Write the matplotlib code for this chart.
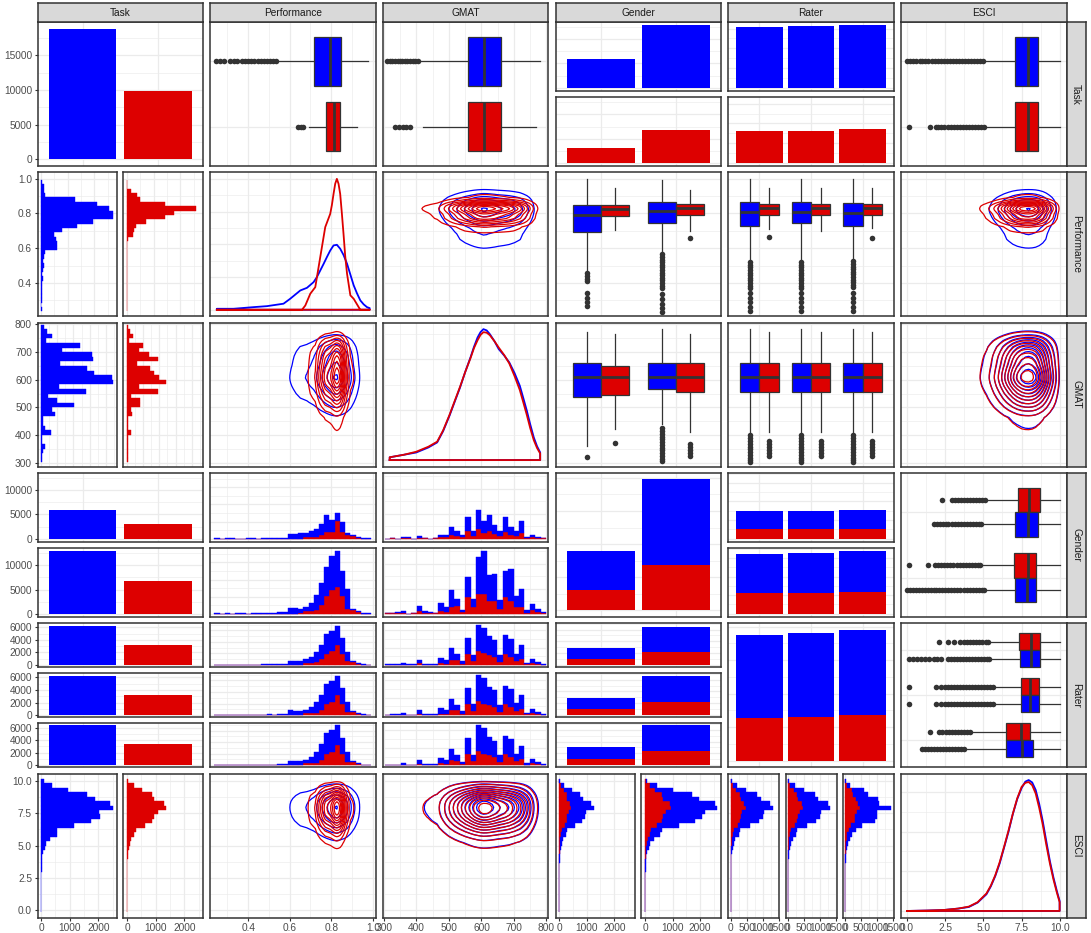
import numpy as np
import matplotlib.pyplot as plt
from matplotlib.ticker import FixedLocator, MaxNLocator, AutoMinorLocator, NullLocator

plt.rcParams['font.family'] = ['Liberation Sans', 'DejaVu Sans']
plt.rcParams['axes.formatter.useoffset'] = False

BLUE = '#0000FF'
RED = '#DD0000'
INK = '#333333'
GRID = '#EBEBEB'

variables = ['Task', 'Performance', 'GMAT', 'Gender', 'Rater', 'ESCI']

# counts: task x gender, split by rater
blue_g1_rater = [1950, 1960, 2000]
blue_g2_rater = [4250, 4320, 4350]
red_g1_rater = [1000, 1010, 1030]
red_g2_rater = [2200, 2250, 2380]

# Performance histogram counts (30 bins, 0.25 .. 0.98)
perf_blue_g1 = [10, 0, 15, 15, 0, 0, 20, 20, 0, 25, 30, 25, 35, 60, 255, 255, 340, 245, 365, 465, 650, 1000, 720, 440, 600, 115, 70, 65, 50, 10]
perf_blue_g2 = [20, 0, 25, 0, 30, 30, 0, 40, 40, 50, 60, 60, 80, 100, 335, 335, 230, 230, 435, 885, 1295, 1700, 2000, 2100, 1500, 1165, 60, 60, 40, 20]
perf_red_g1 = [0, 0, 0, 0, 0, 0, 0, 0, 0, 0, 0, 0, 0, 0, 0, 0, 0, 95, 95, 95, 190, 380, 380, 1040, 380, 190, 150, 55, 0, 0]
perf_red_g2 = [0, 0, 0, 0, 0, 0, 0, 0, 0, 0, 0, 0, 0, 0, 0, 0, 20, 140, 180, 230, 530, 1030, 1380, 1560, 1030, 285, 230, 90, 0, 0]
perf_blue_r1 = [10, 0, 15, 5, 10, 10, 5, 20, 15, 25, 30, 30, 40, 55, 195, 195, 190, 160, 265, 445, 640, 890, 900, 840, 690, 420, 45, 40, 30, 10]
perf_blue_r2 = [10, 0, 10, 5, 10, 10, 10, 20, 10, 25, 30, 25, 40, 50, 200, 195, 185, 155, 270, 450, 650, 900, 905, 845, 700, 430, 40, 45, 30, 10]
perf_blue_r3 = [10, 0, 15, 5, 10, 10, 5, 20, 15, 25, 30, 30, 35, 55, 195, 200, 195, 160, 265, 455, 655, 910, 915, 855, 710, 430, 45, 40, 30, 10]
perf_red_r1 = [0, 0, 0, 0, 0, 0, 0, 0, 0, 0, 0, 0, 0, 0, 0, 0, 5, 80, 90, 110, 240, 470, 590, 870, 470, 160, 125, 50, 0, 0]
perf_red_r2 = [0, 0, 0, 0, 0, 0, 0, 0, 0, 0, 0, 0, 0, 0, 0, 0, 10, 75, 95, 105, 235, 465, 580, 860, 465, 155, 130, 45, 0, 0]
perf_red_r3 = [0, 0, 0, 0, 0, 0, 0, 0, 0, 0, 0, 0, 0, 0, 0, 0, 5, 80, 90, 110, 245, 475, 590, 870, 475, 160, 125, 50, 0, 0]

# GMAT histogram counts (30 bins, 310 .. 790)
gmat_blue_g1 = [0, 10, 0, 30, 30, 0, 65, 10, 0, 20, 105, 105, 315, 210, 105, 590, 210, 770, 470, 620, 360, 210, 570, 315, 210, 470, 55, 105, 40, 20]
gmat_blue_g2 = [25, 25, 55, 95, 0, 25, 225, 95, 55, 25, 335, 225, 690, 295, 95, 800, 335, 1465, 1730, 1000, 1065, 360, 1035, 1265, 425, 730, 95, 240, 135, 55]
gmat_red_g1 = [0, 5, 0, 15, 15, 0, 30, 5, 0, 10, 50, 50, 150, 100, 50, 290, 100, 390, 230, 310, 180, 100, 280, 150, 100, 230, 25, 50, 20, 10]
gmat_red_g2 = [15, 15, 15, 15, 0, 15, 105, 15, 15, 15, 95, 65, 265, 305, 65, 665, 265, 800, 770, 530, 530, 200, 665, 530, 265, 265, 40, 135, 65, 15]
gmat_blue_r1 = [10, 10, 20, 40, 10, 10, 95, 35, 20, 15, 145, 110, 335, 170, 65, 465, 180, 745, 735, 540, 475, 190, 535, 525, 210, 400, 50, 115, 60, 25]
gmat_blue_r2 = [5, 15, 20, 40, 10, 5, 95, 35, 15, 15, 150, 110, 335, 165, 70, 460, 185, 745, 730, 540, 475, 190, 535, 530, 215, 400, 50, 115, 55, 25]
gmat_blue_r3 = [10, 10, 15, 45, 10, 10, 100, 35, 20, 15, 145, 110, 335, 170, 65, 465, 180, 745, 735, 540, 475, 190, 535, 525, 210, 400, 50, 115, 60, 25]
gmat_red_r1 = [5, 5, 5, 10, 5, 5, 45, 5, 5, 10, 50, 40, 140, 135, 40, 320, 120, 395, 335, 280, 235, 100, 315, 225, 120, 165, 20, 60, 30, 10]
gmat_red_r2 = [5, 10, 5, 10, 5, 5, 45, 10, 5, 5, 45, 35, 135, 135, 35, 315, 125, 395, 330, 280, 240, 100, 315, 230, 125, 165, 25, 60, 25, 5]
gmat_red_r3 = [5, 5, 5, 10, 5, 5, 45, 5, 5, 10, 50, 40, 140, 135, 40, 320, 120, 400, 335, 280, 235, 100, 315, 225, 120, 165, 20, 65, 30, 10]

# ESCI histogram counts (30 bins, 0 .. 10)
esci_blue_g1 = [1, 1, 1, 1, 1, 2, 2, 3, 3, 5, 6, 8, 12, 20, 40, 55, 100, 170, 170, 360, 540, 640, 630, 830, 750, 590, 500, 290, 120, 30]
esci_blue_g2 = [1, 1, 1, 2, 2, 3, 3, 5, 7, 10, 14, 17, 28, 45, 90, 115, 220, 380, 380, 800, 1200, 1410, 1400, 1700, 1660, 1310, 1110, 650, 270, 60]
esci_red_g1 = [0, 0, 0, 0, 1, 1, 1, 1, 2, 3, 3, 5, 8, 12, 20, 30, 40, 70, 100, 200, 270, 290, 340, 430, 400, 290, 270, 160, 70, 8]
esci_red_g2 = [1, 1, 1, 1, 1, 1, 2, 2, 3, 5, 7, 10, 17, 28, 45, 70, 90, 160, 220, 445, 610, 640, 760, 930, 890, 640, 610, 360, 160, 17]
esci_blue_r1 = [1, 1, 1, 1, 1, 2, 2, 3, 3, 5, 7, 8, 13, 22, 43, 57, 107, 183, 183, 387, 580, 683, 677, 850, 803, 633, 537, 313, 130, 30]
esci_blue_r2 = [1, 1, 1, 1, 1, 2, 2, 3, 4, 5, 7, 9, 14, 21, 44, 57, 106, 185, 182, 390, 585, 680, 675, 845, 805, 630, 535, 315, 130, 30]
esci_blue_r3 = [1, 1, 1, 1, 1, 1, 2, 3, 3, 5, 7, 8, 14, 21, 44, 56, 107, 150, 220, 330, 620, 700, 620, 990, 640, 700, 450, 380, 100, 30]
esci_red_r1 = [0, 0, 0, 0, 1, 1, 1, 1, 2, 3, 3, 5, 8, 13, 22, 33, 43, 77, 107, 215, 293, 310, 367, 463, 430, 310, 293, 173, 77, 8]
esci_red_r2 = [1, 1, 1, 1, 1, 1, 1, 1, 2, 3, 4, 5, 9, 14, 21, 34, 44, 77, 108, 215, 295, 312, 368, 465, 432, 312, 295, 175, 78, 9]
esci_red_r3 = [0, 0, 0, 0, 1, 1, 1, 1, 2, 3, 3, 5, 8, 13, 22, 33, 43, 60, 110, 180, 310, 300, 380, 450, 410, 330, 250, 220, 60, 8]

# density curves
perf_blue_x = [0.249, 0.329, 0.426, 0.49, 0.57, 0.602, 0.651, 0.683, 0.715, 0.731, 0.747, 0.763, 0.779, 0.795, 0.811, 0.827, 0.843, 0.859, 0.876, 0.892, 0.908, 0.924, 0.94, 0.956, 0.972, 0.985]
perf_blue_d = [0.06, 0.06, 0.16, 0.22, 0.37, 0.67, 1.18, 1.34, 1.69, 2.0, 2.4, 2.8, 3.22, 3.62, 3.93, 3.97, 3.73, 3.35, 2.81, 2.15, 1.49, 1.0, 0.57, 0.33, 0.16, 0.1]
perf_red_x = [0.249, 0.659, 0.675, 0.699, 0.723, 0.747, 0.771, 0.795, 0.803, 0.811, 0.819, 0.827, 0.835, 0.843, 0.851, 0.859, 0.867, 0.876, 0.892, 0.908, 0.932, 0.94, 0.985]
perf_red_d = [0.0, 0.0, 0.26, 0.98, 1.38, 3.22, 5.05, 5.86, 6.4, 7.08, 7.7, 8.0, 7.7, 7.08, 5.9, 4.64, 3.3, 2.2, 0.88, 0.67, 0.16, 0.0, 0.0]
gmat_x = [317.5, 361, 399, 436.6, 463.6, 482, 501.5, 518, 534, 550, 566, 577, 588, 597, 606, 616, 625.8, 640, 653, 670, 685.5, 702, 718, 729, 739.6, 750, 761, 771, 780.7]
gmat_blue_d = [0.11, 0.21, 0.30, 0.50, 0.70, 1.15, 1.76, 2.33, 2.88, 3.5, 4.07, 4.5, 4.87, 5.08, 5.20, 5.15, 5.00, 4.72, 4.41, 4.15, 3.88, 3.45, 2.95, 2.45, 1.96, 1.42, 0.90, 0.55, 0.30]
gmat_red_d = [0.11, 0.21, 0.33, 0.53, 0.73, 1.18, 1.79, 2.36, 2.91, 3.5, 4.04, 4.45, 4.76, 4.97, 5.08, 5.06, 4.96, 4.72, 4.47, 4.17, 3.84, 3.33, 2.78, 2.28, 1.79, 1.27, 0.79, 0.48, 0.26]
esci_x = [0.0, 1.28, 2.43, 3.35, 4.05, 4.62, 5.2, 5.49, 5.78, 6.07, 6.36, 6.65, 6.93, 7.22, 7.51, 7.75, 7.97, 8.2, 8.43, 8.66, 8.89, 9.12, 9.36, 9.59, 9.82, 10.0]
esci_blue_d = [0.0, 0.001, 0.0025, 0.006, 0.01, 0.021, 0.042, 0.062, 0.088, 0.12, 0.16, 0.2, 0.244, 0.282, 0.31, 0.326, 0.33, 0.324, 0.305, 0.27, 0.227, 0.177, 0.126, 0.085, 0.05, 0.025]
esci_red_d = [0.0, 0.001, 0.0025, 0.006, 0.011, 0.022, 0.044, 0.064, 0.09, 0.123, 0.162, 0.203, 0.245, 0.284, 0.313, 0.323, 0.325, 0.317, 0.296, 0.26, 0.218, 0.168, 0.12, 0.08, 0.046, 0.022]

# box plot stats: [whisker low, q1, median, q3, whisker high]
perf_box_task = [[0.54, 0.718, 0.795, 0.848, 0.978], [0.694, 0.776, 0.815, 0.843, 0.925]]
perf_fl_task = [[0.246, 0.262, 0.284, 0.313, 0.33, 0.348, 0.37, 0.385, 0.4, 0.415, 0.43, 0.445, 0.46, 0.475, 0.49, 0.505, 0.52, 0.535],
                [0.641, 0.652, 0.663]]
gmat_box_task = [[407, 559, 608, 659, 779], [420, 559, 608, 659, 768]]
gmat_fl_task = [[310, 318, 326, 334, 342, 350, 356, 364, 372, 380, 388, 396, 404], [333, 345, 357, 369, 381]]
esci_box_task = [[5.12, 7.07, 7.9, 8.55, 10.0], [5.12, 7.07, 7.9, 8.55, 10.0]]
esci_fl_task = [[0.0, 0.2, 0.4, 0.6, 0.85, 1.0, 1.2, 1.4, 1.6, 1.8, 2.0, 2.2, 2.4, 2.6, 2.8, 3.0, 3.2, 3.4, 3.6, 3.8, 4.0, 4.2, 4.4, 4.6, 4.8, 5.0],
                [0.1, 1.47, 1.87, 2.05, 2.25, 2.45, 2.65, 2.85, 3.05, 3.25, 3.45, 3.65, 3.85, 4.05, 4.25, 4.45, 4.65, 4.85, 5.05]]

perf_box_gender_blue = [[0.47, 0.692, 0.788, 0.85, 0.997], [0.576, 0.744, 0.813, 0.866, 0.99]]
perf_box_gender_red = [[0.705, 0.783, 0.827, 0.85, 0.943], [0.701, 0.788, 0.833, 0.856, 0.933]]
perf_fl_gender_blue = [[0.455, 0.44, 0.425, 0.413, 0.34, 0.315, 0.29, 0.27],
                       [0.565, 0.55, 0.535, 0.52, 0.505, 0.49, 0.475, 0.46, 0.445, 0.43, 0.415, 0.4, 0.385, 0.37, 0.335, 0.31, 0.28, 0.255, 0.235]]
perf_fl_gender_red = [[], [0.659]]
perf_box_rater_blue = [[0.532, 0.726, 0.808, 0.866, 0.997], [0.532, 0.746, 0.808, 0.866, 0.997], [0.54, 0.726, 0.805, 0.862, 0.997]]
perf_box_rater_red = [[0.711, 0.788, 0.833, 0.856, 0.943], [0.701, 0.788, 0.833, 0.856, 0.943], [0.717, 0.788, 0.833, 0.856, 0.943]]
perf_fl_rater_blue = [[0.52, 0.505, 0.49, 0.475, 0.46, 0.445, 0.43, 0.415, 0.4, 0.385, 0.37, 0.34, 0.315, 0.29, 0.265, 0.24],
                      [0.52, 0.505, 0.49, 0.475, 0.46, 0.445, 0.43, 0.415, 0.4, 0.385, 0.37, 0.34, 0.315, 0.29, 0.26, 0.24],
                      [0.525, 0.51, 0.495, 0.48, 0.465, 0.45, 0.435, 0.42, 0.405, 0.39, 0.375, 0.34, 0.315, 0.29, 0.265, 0.24]]
perf_fl_rater_red = [[0.667], [], [0.659]]

gmat_box_gender_blue = [[360, 536, 608, 661, 773], [440, 568, 608, 661, 782]]
gmat_box_gender_red = [[423, 546, 608, 649, 764], [411, 556, 608, 661, 764]]
gmat_fl_gender_blue = [[320], [425, 415, 405, 395, 385, 375, 365, 355, 345, 335, 325, 315, 308]]
gmat_fl_gender_red = [[371], [369, 358, 347, 336, 326]]
gmat_box_rater_blue = [[405, 556, 608, 661, 782], [405, 556, 608, 661, 782], [405, 556, 608, 661, 782]]
gmat_box_rater_red = [[412, 556, 608, 661, 773], [412, 556, 608, 661, 773], [412, 556, 608, 661, 773]]
gmat_fl_rater_blue = [[399, 389, 379, 369, 359, 349, 339, 329, 319, 309, 302],
                      [399, 389, 379, 369, 359, 349, 339, 329, 319, 309, 302],
                      [399, 389, 379, 369, 359, 349, 339, 329, 319, 309, 302]]
gmat_fl_rater_red = [[378, 367, 356, 345, 335, 326], [378, 367, 356, 345, 335, 326], [378, 367, 356, 345, 335, 326]]

esci_box_gender_red = [[5.24, 7.25, 7.97, 8.71, 10.0], [4.89, 7.03, 7.9, 8.48, 10.0]]
esci_box_gender_blue = [[4.96, 7.09, 7.9, 8.59, 10.0], [5.12, 7.09, 7.85, 8.48, 10.0]]
esci_fl_gender_red = [[2.3, 2.92, 3.12, 3.32, 3.52, 3.72, 3.92, 4.12, 4.32, 4.52, 4.72, 4.92, 5.1],
                      [0.1, 1.4, 1.84, 2.04, 2.24, 2.44, 2.64, 2.84, 3.04, 3.24, 3.44, 3.64, 3.84, 4.04, 4.24, 4.44, 4.64, 4.8]]
esci_fl_gender_blue = [[1.74, 1.94, 2.14, 2.34, 2.54, 2.7, 2.92, 3.12, 3.32, 3.52, 3.72, 3.92, 4.12, 4.32, 4.52, 4.72, 4.85],
                       [0.0, 0.2, 0.4, 0.6, 0.8, 0.95, 1.15, 1.35, 1.55, 1.75, 1.9, 2.1, 2.3, 2.5, 2.7, 2.9, 3.1, 3.3, 3.5, 3.7, 3.9, 4.1, 4.3, 4.5, 4.7, 4.9, 5.05]]
esci_box_rater_red = [[5.42, 7.32, 8.09, 8.71, 10.0], [5.7, 7.44, 8.06, 8.66, 10.0], [4.2, 6.5, 7.44, 8.07, 10.0]]
esci_box_rater_blue = [[5.52, 7.37, 8.09, 8.71, 10.0], [5.7, 7.44, 8.06, 8.66, 10.0], [3.9, 6.5, 7.51, 8.24, 10.0]]
esci_fl_rater_red = [[2.07, 2.7, 3.1, 3.5, 3.74, 3.94, 4.14, 4.34, 4.54, 4.74, 4.94, 5.14, 5.3],
                     [0.1, 1.89, 2.2, 2.47, 2.65, 2.85, 3.05, 3.25, 3.45, 3.65, 3.85, 4.05, 4.25, 4.45, 4.65, 4.85, 5.05, 5.25, 5.45, 5.6],
                     [1.49, 2.12, 2.32, 2.52, 2.72, 2.92, 3.12, 3.32, 3.52, 3.72, 3.92, 4.1]]
esci_fl_rater_blue = [[0.15, 0.4, 0.65, 0.9, 1.15, 1.43, 1.74, 1.99, 2.24, 2.65, 2.85, 3.05, 3.25, 3.45, 3.65, 3.85, 4.05, 4.25, 4.45, 4.65, 4.85, 5.05, 5.25, 5.4],
                      [0.1, 1.89, 2.2, 2.47, 2.65, 2.85, 3.05, 3.25, 3.45, 3.65, 3.85, 4.05, 4.25, 4.45, 4.65, 4.85, 5.05, 5.25, 5.45, 5.6],
                      [0.96, 1.16, 1.36, 1.56, 1.76, 1.96, 2.16, 2.36, 2.56, 2.76, 2.96, 3.16, 3.36, 3.56, 3.75]]

# axis ranges and breaks
PERF_X, PERF_Y = (0.217, 1.014), (0.209, 1.036)
GMAT_X, GMAT_Y = (296.6, 806.0), (286.6, 805.8)
ESCI_X, ESCI_Y = (-0.4, 10.45), (-0.6, 10.6)
PERF_T = [0.2, 0.4, 0.6, 0.8, 1.0]
GMAT_T = [300, 400, 500, 600, 700, 800]
ESCI_T = [0.0, 2.5, 5.0, 7.5, 10.0]

perf_c = np.linspace(0.25, 0.98, 30)
gmat_c = np.linspace(310, 790, 30)
esci_c = np.linspace(0, 10, 30)

bg1, bg2 = np.array(blue_g1_rater), np.array(blue_g2_rater)
rg1, rg2 = np.array(red_g1_rater), np.array(red_g2_rater)

# ---------------------------------------------------------------
W, H = 1091, 933
fig = plt.figure(figsize=(W / 100, H / 100), dpi=100)
fig.patch.set_facecolor('white')

COL_X = [37.5 + 172.7 * k for k in range(6)]
ROW_Y = [22.0 + 150.3 * k for k in range(6)]
PW, PH, GAP = 165.5, 144.0, 6.3


def cells(start, size, n):
    step = (size - GAP * (n - 1)) / n
    return [(start + i * (step + GAP), start + i * (step + GAP) + step) for i in range(n)]


def panel(x0, x1, y0, y1):
    ax = fig.add_axes([x0 / W, 1 - y1 / H, (x1 - x0) / W, (y1 - y0) / H])
    ax.set_facecolor('white')
    for sp in ax.spines.values():
        sp.set_color(INK)
        sp.set_linewidth(1.1)
    ax.tick_params(which='both', length=0, labelbottom=False, labelleft=False,
                   labelsize=7.3, labelcolor='#4D4D4D', color=INK, pad=1.5, width=0.8)
    ax.set_axisbelow(True)
    return ax


def scale(ax, which, lim, ticks=None, n=None):
    axis = ax.xaxis if which == 'x' else ax.yaxis
    if which == 'x':
        ax.set_xlim(lim)
    else:
        ax.set_ylim(lim)
    if n:
        axis.set_major_locator(FixedLocator(list(range(1, n + 1))))
        axis.set_minor_locator(NullLocator())
    else:
        if ticks is None:
            axis.set_major_locator(MaxNLocator(nbins=5, steps=[1, 2, 2.5, 5, 10]))
        else:
            axis.set_major_locator(FixedLocator(ticks))
        axis.set_minor_locator(AutoMinorLocator(2))


def grid(ax):
    ax.grid(True, which='major', color=GRID, lw=0.9)
    ax.grid(True, which='minor', color=GRID, lw=0.45)


def show(ax, which):
    if which == 'x':
        ax.tick_params(axis='x', which='major', labelbottom=True, length=2.5)
    else:
        ax.tick_params(axis='y', which='major', labelleft=True, length=2.5)


def count_lim(m):
    return (-0.05 * m, 1.05 * m)


def disc(n, flip=False):
    return (n + 0.6, 0.4) if flip else (0.4, n + 0.6)


def boxes(ax, stats, fliers, pos, color, width, horizontal=False):
    bx = [dict(whislo=s[0], q1=s[1], med=s[2], q3=s[3], whishi=s[4], fliers=f) for s, f in zip(stats, fliers)]
    ax.bxp(bx, positions=pos, widths=width, orientation='horizontal' if horizontal else 'vertical',
           patch_artist=True, showcaps=False, manage_ticks=False,
           boxprops=dict(facecolor=color, edgecolor=INK, linewidth=0.9),
           medianprops=dict(color=INK, linewidth=2.0),
           whiskerprops=dict(color=INK, linewidth=0.9),
           flierprops=dict(marker='o', markersize=4, markerfacecolor=INK, markeredgecolor=INK, markeredgewidth=0))


def outline(ax, x, d, color):
    x = np.asarray(x, float)
    d = np.asarray(d, float)
    ax.plot(np.r_[x[0], x, x[-1], x[0]], np.r_[0, d, 0, 0], color=color, lw=1.3, solid_joinstyle='round')


def contours(ax, xb, yb, zb, xr, yr, zr):
    top = max(zb.max(), zr.max())
    lv = top * np.arange(1, 12) / 12
    ax.contour(xb, yb, zb, levels=lv, colors=BLUE, linewidths=0.9)
    ax.contour(xr, yr, zr, levels=lv, colors=RED, linewidths=0.9)


def strip(x0, x1, y0, y1, text, rot=0):
    ax = fig.add_axes([x0 / W, 1 - y1 / H, (x1 - x0) / W, (y1 - y0) / H])
    ax.set_facecolor('#D9D9D9')
    ax.set_xticks([])
    ax.set_yticks([])
    for sp in ax.spines.values():
        sp.set_color(INK)
        sp.set_linewidth(1.1)
    ax.text(0.5, 0.5, text, transform=ax.transAxes, ha='center', va='center',
            rotation=rot, fontsize=7.3, color='#1A1A1A')


def cx(k):
    return COL_X[k], COL_X[k] + PW


def ry(k):
    return ROW_Y[k], ROW_Y[k] + PH


var_lim_x = {1: (PERF_X, PERF_T), 2: (GMAT_X, GMAT_T), 5: (ESCI_X, ESCI_T)}
var_lim_y = {1: (PERF_Y, PERF_T), 2: (GMAT_Y, GMAT_T), 5: (ESCI_Y, ESCI_T)}

# ---------------- row 1: Task ----------------
ax = panel(*cx(0), *ry(0))
task_n = [bg1.sum() + bg2.sum(), rg1.sum() + rg2.sum()]
ax.bar([1, 2], task_n, width=0.9, color=[BLUE, RED])
scale(ax, 'x', disc(2), n=2)
scale(ax, 'y', count_lim(max(task_n)))
grid(ax)
show(ax, 'y')

for col, st, fl in [(1, perf_box_task, perf_fl_task), (2, gmat_box_task, gmat_fl_task), (5, esci_box_task, esci_fl_task)]:
    ax = panel(*cx(col), *ry(0))
    for i, c in enumerate([BLUE, RED]):
        boxes(ax, [st[i]], [fl[i]], [i + 1], c, 0.75, horizontal=True)
    scale(ax, 'x', *var_lim_x[col])
    scale(ax, 'y', disc(2, True), n=2)
    grid(ax)

for col, ncat, top_vals, bot_vals in [(3, 2, [bg1.sum(), bg2.sum()], [rg1.sum(), rg2.sum()]),
                                      (4, 3, bg1 + bg2, rg1 + rg2)]:
    m = max(max(top_vals), max(bot_vals))
    for (y0, y1), v, c in zip(cells(ROW_Y[0], PH, 2), [top_vals, bot_vals], [BLUE, RED]):
        ax = panel(*cx(col), y0, y1)
        ax.bar(np.arange(1, ncat + 1), v, width=0.9, color=c)
        scale(ax, 'x', disc(ncat), n=ncat)
        scale(ax, 'y', count_lim(m))
        grid(ax)


# ------------- column 1 horizontal histograms (rows 2, 3, 6) -------------
def task_hists(row, centers, blue, red, ylim, yt, bottom=False):
    w = centers[1] - centers[0]
    m = max(max(blue), max(red))
    for i, ((x0, x1), v, c) in enumerate(zip(cells(COL_X[0], PW, 2), [blue, red], [BLUE, RED])):
        ax = panel(x0, x1, *ry(row))
        ax.barh(centers, v, height=w, color=c, ec=c, lw=0.3)
        scale(ax, 'x', count_lim(m))
        scale(ax, 'y', ylim, yt)
        grid(ax)
        if i == 0:
            show(ax, 'y')
        if bottom:
            show(ax, 'x')


task_hists(1, perf_c, np.add(perf_blue_g1, perf_blue_g2), np.add(perf_red_g1, perf_red_g2), PERF_Y, PERF_T)
task_hists(2, gmat_c, np.add(gmat_blue_g1, gmat_blue_g2), np.add(gmat_red_g1, gmat_red_g2), GMAT_Y, GMAT_T)
task_hists(5, esci_c, np.add(esci_blue_g1, esci_blue_g2), np.add(esci_red_g1, esci_red_g2), ESCI_Y, ESCI_T, bottom=True)


# ---------------- diagonal densities ----------------
def diag(k, xb, db, xr, dr, xlim, xt, bottom=False):
    ax = panel(*cx(k), *ry(k))
    outline(ax, xb, db, BLUE)
    outline(ax, xr, dr, RED)
    m = max(max(db), max(dr))
    scale(ax, 'x', xlim, xt)
    scale(ax, 'y', count_lim(m))
    grid(ax)
    if bottom:
        show(ax, 'x')


diag(1, perf_blue_x, perf_blue_d, perf_red_x, perf_red_d, PERF_X, PERF_T)
diag(2, gmat_x, gmat_blue_d, gmat_x, gmat_red_d, GMAT_X, GMAT_T)
diag(5, esci_x, esci_blue_d, esci_x, esci_red_d, ESCI_X, ESCI_T, bottom=True)

# ---------------- 2d density contours ----------------
dens = {1: (perf_blue_x, perf_blue_d, perf_red_x, perf_red_d),
        2: (gmat_x, gmat_blue_d, gmat_x, gmat_red_d),
        5: (esci_x, esci_blue_d, esci_x, esci_red_d)}
for row, col in [(1, 2), (1, 5), (2, 1), (2, 5), (5, 1), (5, 2)]:
    ax = panel(*cx(col), *ry(row))
    xb, dxb, xr, dxr = dens[col]
    yb, dyb, yr, dyr = dens[row]
    contours(ax, xb, yb, np.outer(dyb, dxb), xr, yr, np.outer(dyr, dxr))
    scale(ax, 'x', *var_lim_x[col])
    scale(ax, 'y', *var_lim_y[row])
    grid(ax)
    if row == 5:
        show(ax, 'x')

# ---------------- vertical boxes (rows 2, 3; Gender, Rater) ----------------
for row, col, ncat, sb, sr, fb, fr in [
        (1, 3, 2, perf_box_gender_blue, perf_box_gender_red, perf_fl_gender_blue, perf_fl_gender_red),
        (1, 4, 3, perf_box_rater_blue, perf_box_rater_red, perf_fl_rater_blue, perf_fl_rater_red),
        (2, 3, 2, gmat_box_gender_blue, gmat_box_gender_red, gmat_fl_gender_blue, gmat_fl_gender_red),
        (2, 4, 3, gmat_box_rater_blue, gmat_box_rater_red, gmat_fl_rater_blue, gmat_fl_rater_red)]:
    ax = panel(*cx(col), *ry(row))
    pos = np.arange(1, ncat + 1)
    boxes(ax, sb, fb, pos - 0.1875, BLUE, 0.375)
    boxes(ax, sr, fr, pos + 0.1875, RED, 0.375)
    scale(ax, 'x', disc(ncat), n=ncat)
    scale(ax, 'y', *var_lim_y[row])
    grid(ax)

# ---------------- horizontal boxes (rows 4, 5; ESCI) ----------------
for row, ncat, sb, sr, fb, fr in [
        (3, 2, esci_box_gender_blue, esci_box_gender_red, esci_fl_gender_blue, esci_fl_gender_red),
        (4, 3, esci_box_rater_blue, esci_box_rater_red, esci_fl_rater_blue, esci_fl_rater_red)]:
    ax = panel(*cx(5), *ry(row))
    pos = np.arange(1, ncat + 1)
    boxes(ax, sr, fr, pos - 0.1875, RED, 0.375, horizontal=True)
    boxes(ax, sb, fb, pos + 0.1875, BLUE, 0.375, horizontal=True)
    scale(ax, 'x', ESCI_X, ESCI_T)
    scale(ax, 'y', disc(ncat, True), n=ncat)
    grid(ax)

# ---------------- row 4: Gender facets ----------------
g_rows = cells(ROW_Y[3], PH, 2)
gender_task = [[bg1.sum(), rg1.sum()], [bg2.sum(), rg2.sum()]]
m = max(max(v) for v in gender_task)
for (y0, y1), v in zip(g_rows, gender_task):
    ax = panel(*cx(0), y0, y1)
    ax.bar([1, 2], v, width=0.9, color=[BLUE, RED])
    scale(ax, 'x', disc(2), n=2)
    scale(ax, 'y', count_lim(m))
    grid(ax)
    show(ax, 'y')


def stacked_rows(col, rows, centers, reds, blues, xlim, xt):
    w = centers[1] - centers[0]
    m = max((np.add(r, b)).max() for r, b in zip(reds, blues))
    for (y0, y1), r, b in zip(rows, reds, blues):
        ax = panel(*cx(col), y0, y1)
        ax.bar(centers, r, width=w, color=RED, ec=RED, lw=0.3)
        ax.bar(centers, b, width=w, bottom=r, color=BLUE, ec=BLUE, lw=0.3)
        scale(ax, 'x', xlim, xt)
        scale(ax, 'y', count_lim(m))
        grid(ax)


stacked_rows(1, g_rows, perf_c, [perf_red_g1, perf_red_g2], [perf_blue_g1, perf_blue_g2], PERF_X, PERF_T)
stacked_rows(2, g_rows, gmat_c, [gmat_red_g1, gmat_red_g2], [gmat_blue_g1, gmat_blue_g2], GMAT_X, GMAT_T)

ax = panel(*cx(3), *ry(3))
red_gender = [rg1.sum(), rg2.sum()]
blue_gender = [bg1.sum(), bg2.sum()]
ax.bar([1, 2], red_gender, width=0.9, color=RED)
ax.bar([1, 2], blue_gender, width=0.9, bottom=red_gender, color=BLUE)
scale(ax, 'x', disc(2), n=2)
scale(ax, 'y', count_lim(max(np.add(red_gender, blue_gender))))
grid(ax)

m = max((bg1 + rg1).max(), (bg2 + rg2).max())
for (y0, y1), r, b in zip(g_rows, [rg1, rg2], [bg1, bg2]):
    ax = panel(*cx(4), y0, y1)
    ax.bar([1, 2, 3], r, width=0.9, color=RED)
    ax.bar([1, 2, 3], b, width=0.9, bottom=r, color=BLUE)
    scale(ax, 'x', disc(3), n=3)
    scale(ax, 'y', count_lim(m))
    grid(ax)

# ---------------- row 5: Rater facets ----------------
r_rows = cells(ROW_Y[4], PH, 3)
m = max((bg1 + bg2).max(), (rg1 + rg2).max())
for i, (y0, y1) in enumerate(r_rows):
    ax = panel(*cx(0), y0, y1)
    ax.bar([1, 2], [bg1[i] + bg2[i], rg1[i] + rg2[i]], width=0.9, color=[BLUE, RED])
    scale(ax, 'x', disc(2), n=2)
    scale(ax, 'y', count_lim(m))
    grid(ax)
    show(ax, 'y')

stacked_rows(1, r_rows, perf_c, [perf_red_r1, perf_red_r2, perf_red_r3],
             [perf_blue_r1, perf_blue_r2, perf_blue_r3], PERF_X, PERF_T)
stacked_rows(2, r_rows, gmat_c, [gmat_red_r1, gmat_red_r2, gmat_red_r3],
             [gmat_blue_r1, gmat_blue_r2, gmat_blue_r3], GMAT_X, GMAT_T)

m = max((bg1 + rg1).max(), (bg2 + rg2).max())
for i, (y0, y1) in enumerate(r_rows):
    ax = panel(*cx(3), y0, y1)
    r = [rg1[i], rg2[i]]
    ax.bar([1, 2], r, width=0.9, color=RED)
    ax.bar([1, 2], [bg1[i], bg2[i]], width=0.9, bottom=r, color=BLUE)
    scale(ax, 'x', disc(2), n=2)
    scale(ax, 'y', count_lim(m))
    grid(ax)

ax = panel(*cx(4), *ry(4))
red_rater = rg1 + rg2
blue_rater = bg1 + bg2
ax.bar([1, 2, 3], red_rater, width=0.9, color=RED)
ax.bar([1, 2, 3], blue_rater, width=0.9, bottom=red_rater, color=BLUE)
scale(ax, 'x', disc(3), n=3)
scale(ax, 'y', count_lim((red_rater + blue_rater).max()))
grid(ax)


# ---------------- row 6: ESCI stacked horizontal histograms ----------------
def stacked_cols(col, n, reds, blues):
    w = esci_c[1] - esci_c[0]
    m = max((np.add(r, b)).max() for r, b in zip(reds, blues))
    for (x0, x1), r, b in zip(cells(COL_X[col], PW, n), reds, blues):
        ax = panel(x0, x1, *ry(5))
        ax.barh(esci_c, r, height=w, color=RED, ec=RED, lw=0.3)
        ax.barh(esci_c, b, height=w, left=r, color=BLUE, ec=BLUE, lw=0.3)
        scale(ax, 'x', count_lim(m))
        scale(ax, 'y', ESCI_Y, ESCI_T)
        grid(ax)
        show(ax, 'x')


stacked_cols(3, 2, [esci_red_g1, esci_red_g2], [esci_blue_g1, esci_blue_g2])
stacked_cols(4, 3, [esci_red_r1, esci_red_r2, esci_red_r3], [esci_blue_r1, esci_blue_r2, esci_blue_r3])

# ---------------- strips ----------------
for k, name in enumerate(variables):
    strip(COL_X[k], COL_X[k] + PW, 3.3, ROW_Y[0], name)
    strip(COL_X[5] + PW, COL_X[5] + PW + 19.5, ROW_Y[k], ROW_Y[k] + PH, name, rot=-90)

fig.savefig('out.png', dpi=100, facecolor='white')
